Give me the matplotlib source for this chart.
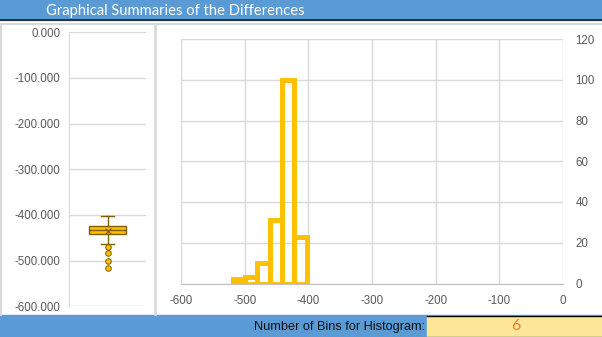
import matplotlib
matplotlib.use("Agg")
import matplotlib.pyplot as plt
from matplotlib.patches import Rectangle
from matplotlib.lines import Line2D
from matplotlib.ticker import FormatStrFormatter

plt.rcParams['axes.unicode_minus'] = False
plt.rcParams['font.family'] = ['Liberation Sans', 'DejaVu Sans']

# histogram of the differences
bin_edges = [-519, -499.6, -480.2, -460.8, -441.4, -422, -402.6]
counts = [2, 3, 10, 31, 100, 23]
n_bins = 6

# box plot summary of the differences
box_q1 = -442
box_med = -433.5
box_q3 = -425
box_mean = -435.5
whisker_lo = -464
whisker_hi = -402
outliers = [-471, -484, -501, -517]

W, H = 602, 337
fig = plt.figure(figsize=(W / 100, H / 100), dpi=100)

def fx(x):
    return x / W

def fy(y):
    return 1 - y / H

grid_c = "#D9D9D9"
tick_c = "#595959"
gold = "#FFC000"
dark_gold = "#7F6000"

# background bands and borders
fig.add_artist(Rectangle((0, fy(20)), 1, 20 / H, color="#5B9BD5", transform=fig.transFigure, zorder=0))
fig.add_artist(Line2D([0, 1], [fy(20), fy(20)], color="#1F1F1F", lw=1.2, transform=fig.transFigure))
fig.add_artist(Line2D([fx(1), 1], [fy(23.5), fy(23.5)], color=grid_c, lw=1.5, transform=fig.transFigure))
fig.add_artist(Line2D([fx(1), fx(1)], [fy(23.5), fy(315)], color=grid_c, lw=1.5, transform=fig.transFigure))
fig.add_artist(Line2D([fx(154.5), fx(154.5)], [fy(23.5), fy(314)], color=grid_c, lw=2, transform=fig.transFigure))
fig.add_artist(Rectangle((0, 0), 1, fy(315), color="#5B9BD5", transform=fig.transFigure, zorder=0))
fig.add_artist(Rectangle((fx(427), 0), 1 - fx(427), fy(315.5), color="#FFE699", transform=fig.transFigure, zorder=1))
fig.add_artist(Line2D([fx(427), 1], [fy(315.5), fy(315.5)], color="black", lw=1, transform=fig.transFigure))
fig.add_artist(Line2D([fx(427), 1], [fy(336.5), fy(336.5)], color="#217346", lw=1, transform=fig.transFigure))

fig.text(fx(46), fy(10.5), "Graphical Summaries of the Differences", color="white",
         fontsize=10.6, family=["Lato", "DejaVu Sans"], va="center", ha="left")
fig.text(fx(425), fy(327), "Number of Bins for Histogram:", color="#111111",
         fontsize=9.2, va="center", ha="right")
fig.text(fx(516), fy(326.5), str(n_bins), color="#ED7D31",
         fontsize=11.5, family=["Lato", "DejaVu Sans"], va="center", ha="center")

# box plot panel
ax1 = fig.add_axes([fx(69), fy(306.3), fx(146) - fx(69), (306.3 - 32.3) / H])
stats = [dict(med=box_med, q1=box_q1, q3=box_q3, whislo=whisker_lo, whishi=whisker_hi,
              fliers=outliers, mean=box_mean)]
ax1.bxp(stats, positions=[1], widths=0.49, patch_artist=True, showmeans=True,
        boxprops=dict(facecolor=gold, edgecolor=dark_gold, lw=1),
        medianprops=dict(color=dark_gold, lw=1),
        whiskerprops=dict(color=dark_gold, lw=1),
        capprops=dict(color=dark_gold, lw=1),
        capwidths=0.16,
        meanprops=dict(marker="x", markeredgecolor=dark_gold, markersize=5, markeredgewidth=0.9),
        flierprops=dict(marker="o", markerfacecolor=gold, markeredgecolor=dark_gold,
                        markersize=4, markeredgewidth=0.7))
ax1.set_xlim(0.5, 1.5)
ax1.set_ylim(-600, 0)
ax1.set_yticks(range(-600, 1, 100))
ax1.yaxis.set_major_formatter(FormatStrFormatter("%.3f"))
ax1.set_xticks([])
ax1.grid(axis="y", color=grid_c, lw=1)
ax1.set_axisbelow(True)
for s in ["top", "right", "bottom"]:
    ax1.spines[s].set_visible(False)
ax1.spines["left"].set_color(grid_c)
ax1.tick_params(axis="y", length=0, pad=6, labelsize=8.3, labelcolor=tick_c)

# histogram panel
ax2 = fig.add_axes([fx(181), fy(283.5), fx(563) - fx(181), (283.5 - 39) / H])
widths = [bin_edges[i + 1] - bin_edges[i] for i in range(len(counts))]
ax2.bar(bin_edges[:-1], counts, width=widths, align="edge", facecolor="none",
        edgecolor=gold, lw=3.6, zorder=3)
ax2.set_xlim(-600, 0)
ax2.set_ylim(0, 120)
ax2.set_xticks(range(-600, 1, 100))
ax2.set_yticks(range(0, 121, 20))
ax2.yaxis.tick_right()
ax2.grid(color=grid_c, lw=1)
ax2.set_axisbelow(True)
for s in ["top", "right", "left"]:
    ax2.spines[s].set_visible(False)
ax2.spines["bottom"].set_color("#BFBFBF")
ax2.tick_params(length=0, labelsize=8.3, labelcolor=tick_c)
ax2.tick_params(axis="y", pad=9)
ax2.tick_params(axis="x", pad=8)

fig.savefig("out.png", dpi=100)
